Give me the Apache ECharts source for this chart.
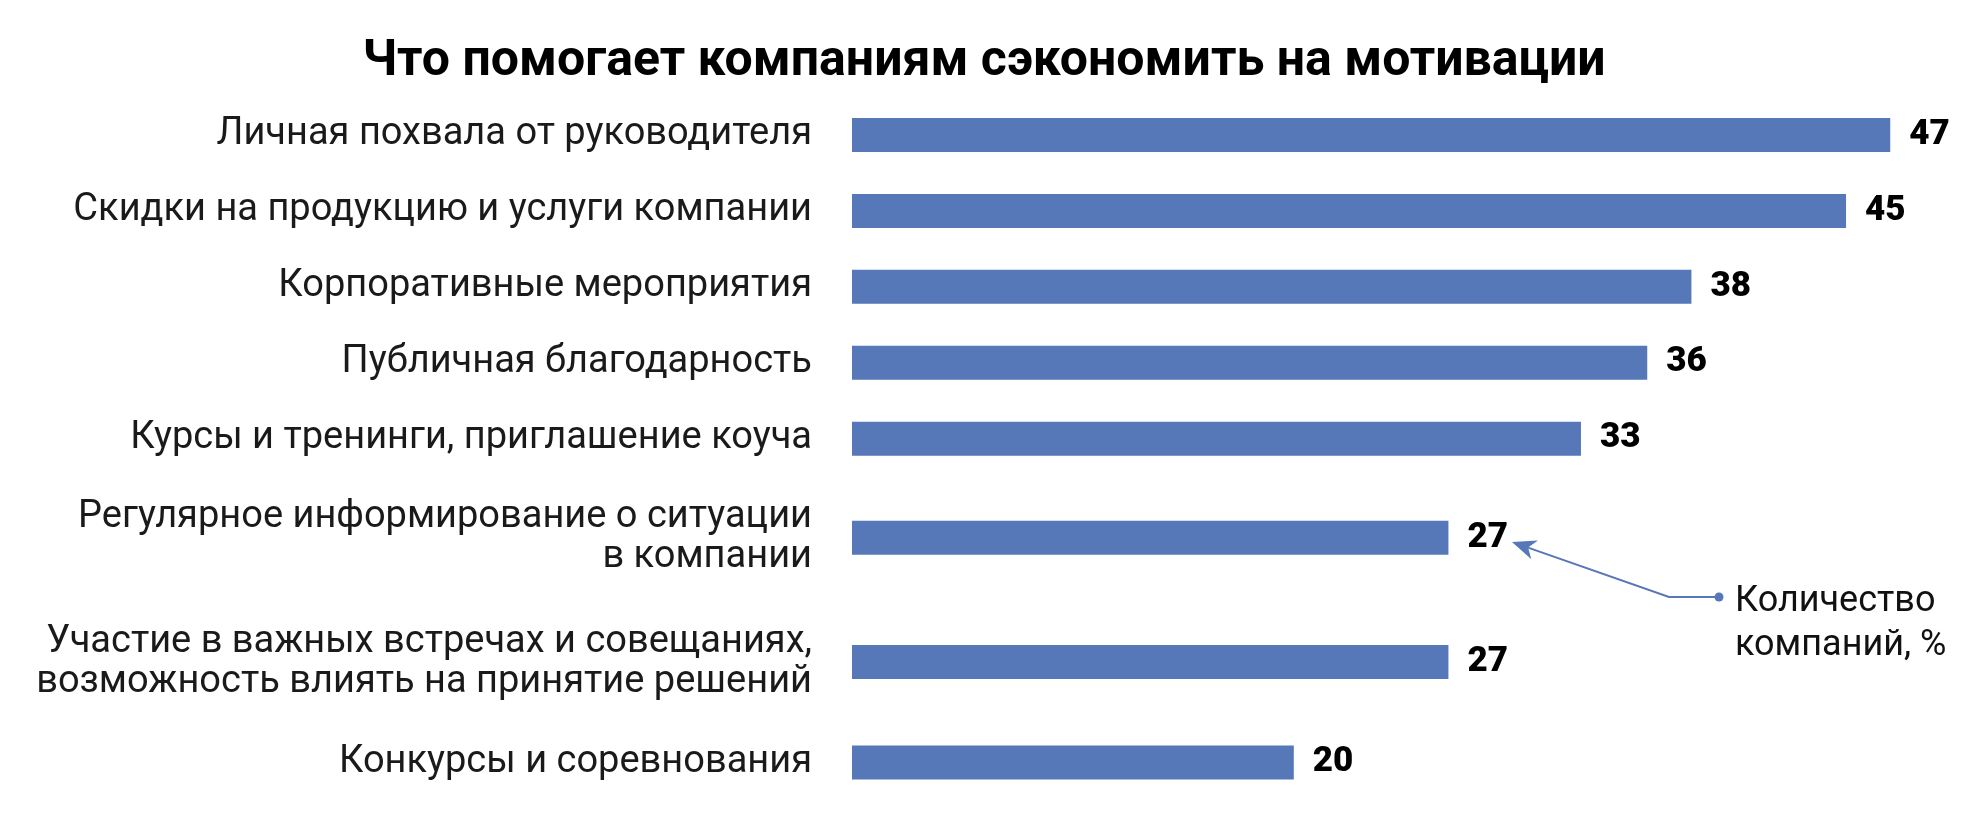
<!DOCTYPE html>
<html>
<head>
<meta charset="utf-8">
<script src="https://cdn.jsdelivr.net/npm/echarts@6/dist/echarts.min.js"></script>
<style>
  html, body { margin: 0; padding: 0; background: #fff; }
  #chart { width: 1968px; height: 821px; }
</style>
</head>
<body>
<div id="chart"></div>
<script>
// категории (сверху вниз)
const categories = [
  "Личная похвала от руководителя",
  "Скидки на продукцию и услуги компании",
  "Корпоративные мероприятия",
  "Публичная благодарность",
  "Курсы и тренинги, приглашение коуча",
  "Регулярное информирование о ситуации\nв компании",
  "Участие в важных встречах и совещаниях,\nвозможность влиять на принятие решений",
  "Конкурсы и соревнования"
];
// количество компаний, %
const values = [47, 45, 38, 36, 33, 27, 27, 20];

const titleText = "Что помогает компаниям сэкономить на мотивации";
const noteText = "Количество\nкомпаний, %";

const barColor = "#5677b8";
const labelFont = "Roboto, 'Noto Sans', sans-serif";

// строки с двумя строками подписи выше, поэтому ряды разбиты на блоки
const blocks = [
  { from: 0, to: 5, top: 97, height: 379.6 },
  { from: 5, to: 6, top: 499.8, height: 76 },
  { from: 6, to: 7, top: 624.1, height: 76 },
  { from: 7, to: 8, top: 724.5, height: 76 }
];

let grids = [], xAxes = [], yAxes = [], series = [];
blocks.forEach(function (b, i) {
  grids.push({
    left: 852,
    width: 1104.5,
    top: b.top,
    height: b.height,
    containLabel: false,
    outerBoundsMode: "none"
  });
  xAxes.push({
    gridIndex: i,
    type: "value",
    min: 0,
    max: 50,
    show: false
  });
  yAxes.push({
    gridIndex: i,
    type: "category",
    inverse: true,
    data: categories.slice(b.from, b.to),
    axisLine: { show: false },
    axisTick: { show: false },
    splitLine: { show: false },
    axisLabel: {
      margin: 40,
      fontSize: 38,
      lineHeight: 40,
      color: "#1a1a1a",
      fontFamily: labelFont
    }
  });
  series.push({
    type: "bar",
    xAxisIndex: i,
    yAxisIndex: i,
    barWidth: 34,
    data: values.slice(b.from, b.to),
    itemStyle: { color: barColor },
    label: {
      show: true,
      position: "right",
      distance: 19,
      fontSize: 35,
      fontWeight: 900,
      color: "#000",
      fontFamily: labelFont
    },
    silent: true
  });
});

// стрелка-выноска
const tip = [1512, 542], knee = [1669, 597], dot = [1719, 597];
const dx = tip[0] - knee[0], dy = tip[1] - knee[1];
const len = Math.sqrt(dx * dx + dy * dy);
const ux = dx / len, uy = dy / len;
const px = -uy, py = ux;
const headLen = 24, headHalf = 10, notch = 17;
const head = [
  tip,
  [tip[0] - ux * headLen + px * headHalf, tip[1] - uy * headLen + py * headHalf],
  [tip[0] - ux * notch, tip[1] - uy * notch],
  [tip[0] - ux * headLen - px * headHalf, tip[1] - uy * headLen - py * headHalf]
];

let myChart = echarts.init(document.getElementById("chart"), null, { renderer: "canvas" });
myChart.setOption({
  animation: false,
  backgroundColor: "#fff",
  title: {
    text: titleText,
    left: "center",
    top: 32,
    textStyle: {
      fontSize: 50,
      fontWeight: "bold",
      color: "#000",
      fontFamily: labelFont
    }
  },
  grid: grids,
  xAxis: xAxes,
  yAxis: yAxes,
  series: series,
  graphic: [
    {
      type: "polyline",
      shape: { points: [dot, knee, [tip[0] - ux * notch, tip[1] - uy * notch]] },
      style: { stroke: barColor, lineWidth: 2, fill: null }
    },
    {
      type: "polygon",
      shape: { points: head },
      style: { fill: barColor }
    },
    {
      type: "circle",
      shape: { cx: dot[0], cy: dot[1], r: 4.5 },
      style: { fill: barColor }
    },
    {
      type: "text",
      left: 1735,
      top: 580,
      style: {
        text: noteText,
        fontSize: 36,
        lineHeight: 44,
        fill: "#111",
        fontFamily: labelFont
      }
    }
  ]
});
window.addEventListener("resize", function () {
  myChart.resize();
});
</script>
</body>
</html>
